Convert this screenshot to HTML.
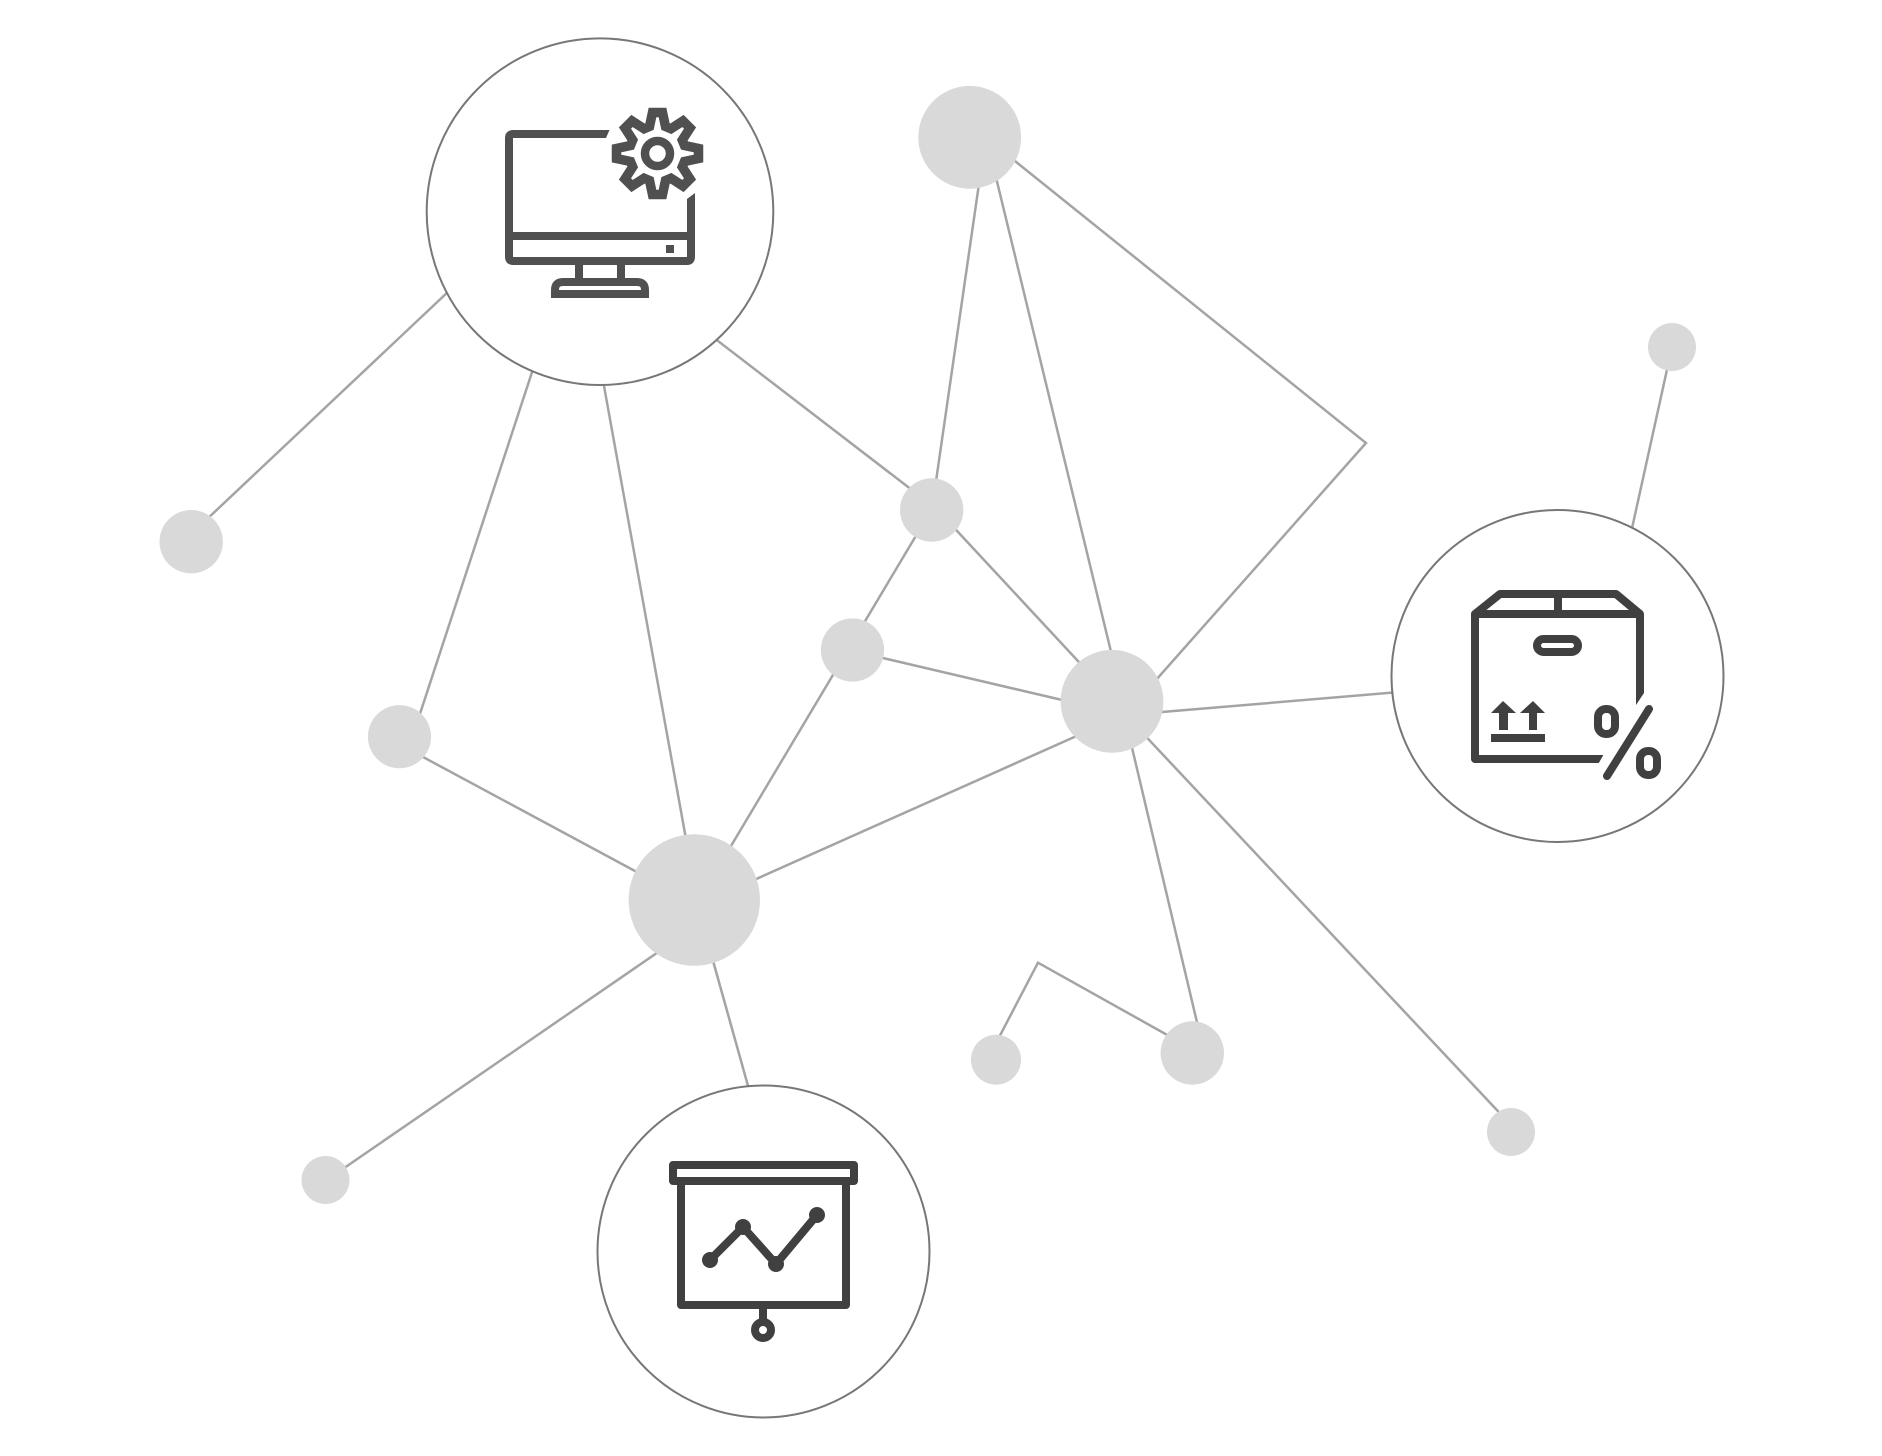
<!DOCTYPE html>
<html>
<head>
<meta charset="utf-8">
<title>Network diagram</title>
<style>
html,body{margin:0;padding:0;background:#fff}
svg{display:block}
</style>
</head>
<body>
<svg xmlns="http://www.w3.org/2000/svg" width="1882" height="1456" viewBox="0 0 1882 1456">
<rect width="1882" height="1456" fill="#fff"/>
<g stroke="#a4a4a4" stroke-width="2.5" fill="none">
<line x1="205" y1="521" x2="450" y2="290"/>
<line x1="415" y1="729" x2="536" y2="360"/>
<line x1="602" y1="375" x2="688" y2="850"/>
<line x1="705" y1="331" x2="925" y2="500"/>
<line x1="981" y1="170" x2="934" y2="495"/>
<line x1="993" y1="165" x2="1113" y2="660"/>
<polyline points="1005,153 1366,443 1148,689"/>
<line x1="920" y1="529" x2="725" y2="856"/>
<line x1="945" y1="518" x2="1090" y2="674"/>
<line x1="870" y1="655" x2="1075" y2="703"/>
<line x1="1150" y1="713" x2="1400" y2="692"/>
<line x1="1090" y1="730" x2="745" y2="884"/>
<line x1="1129" y1="735" x2="1200" y2="1035"/>
<line x1="1136" y1="726" x2="1510" y2="1124"/>
<polyline points="994,1047 1038,962.7 1178,1041"/>
<line x1="410" y1="750" x2="648" y2="878"/>
<line x1="667" y1="946" x2="334" y2="1175"/>
<line x1="710" y1="950" x2="750" y2="1093"/>
<line x1="1625" y1="560" x2="1672" y2="347"/>
</g>
<g fill="#d9d9d9">
<circle cx="969.7" cy="137.3" r="51.4"/>
<circle cx="1672" cy="347" r="24"/>
<circle cx="191.2" cy="541.7" r="31.7"/>
<circle cx="931.7" cy="510" r="31.7"/>
<circle cx="852.5" cy="650" r="31.6"/>
<circle cx="1112" cy="701.3" r="51.4"/>
<circle cx="399.5" cy="736.7" r="31.6"/>
<circle cx="694.3" cy="900" r="65.7"/>
<circle cx="996" cy="1059.7" r="25"/>
<circle cx="1192.3" cy="1053" r="31.7"/>
<circle cx="1511" cy="1132" r="24"/>
<circle cx="325.5" cy="1180" r="24"/>
</g>
<g fill="#fff" stroke="#777" stroke-width="2">
<circle cx="600" cy="211.7" r="173.3"/>
<circle cx="1557.5" cy="676" r="166"/>
<circle cx="763.5" cy="1251.5" r="166"/>
</g>

<!-- monitor with gear -->
<g fill="none" stroke="#505050" stroke-width="8">
<path d="M604 134 H513 Q509 134 509 138 V257 Q509 261 513 261 H687 Q691 261 691 257 V205"/>
<line x1="509" y1="236" x2="691" y2="236"/>
<line x1="579" y1="265" x2="579" y2="278"/>
<line x1="621" y1="265" x2="621" y2="278"/>
<path d="M555 294 V290 Q555 282 563 282 H637 Q645 282 645 290 V294 Z"/>
<g transform="translate(657.5,153.5)" stroke-linejoin="miter">
<circle r="12.5" stroke-width="8.5"/>
<path stroke-width="9.5" d="M-8 -27 L-5 -41 L5 -41 L8 -27 L13.44 -24.75 L25.46 -32.53 L32.53 -25.46 L24.75 -13.44 L27 -8 L41 -5 L41 5 L27 8 L24.75 13.44 L32.53 25.46 L25.46 32.53 L13.44 24.75 L8 27 L5 41 L-5 41 L-8 27 L-13.44 24.75 L-25.46 32.53 L-32.53 25.46 L-24.75 13.44 L-27 8 L-41 5 L-41 -5 L-27 -8 L-24.75 -13.44 L-32.53 -25.46 L-25.46 -32.53 L-13.44 -24.75 Z"/>
</g>
</g>
<rect x="666" y="245" width="8" height="8" fill="#505050"/>
<polygon points="600,130 609.5,130 606,138 600,138" fill="#505050"/>
<polygon points="687,199 695,193 695,206 687,206" fill="#505050"/>

<!-- box with percent -->
<g fill="none" stroke="#404040" stroke-width="8" stroke-linejoin="round">
<path d="M1603 759 H1475 V614 L1500 594 H1616 L1640 614 V693"/>
<line x1="1475" y1="614" x2="1640" y2="614"/>
<line x1="1558" y1="594" x2="1558" y2="614"/>
<rect x="1537" y="639" width="41" height="13" rx="6.5"/>
<line x1="1649" y1="709" x2="1607" y2="776" stroke-linecap="round"/>
<rect x="1598" y="709" width="17" height="25" rx="8"/>
<rect x="1640" y="751" width="17" height="24" rx="8"/>
</g>
<g fill="#404040">
<polygon points="1636,693 1644,693 1636,705"/>
<polygon points="1503,701 1516,713 1508,713 1508,730 1499,730 1499,713 1491,713"/>
<polygon points="1533,701 1545,713 1537,713 1537,730 1529,730 1529,713 1520,713"/>
<rect x="1491" y="734" width="54" height="8"/>
</g>
<polygon points="1604,754 1611,754 1604,766 1597,766" fill="#fff"/>

<!-- presentation board -->
<g fill="none" stroke="#404040" stroke-width="8" stroke-linejoin="round">
<rect x="673" y="1165" width="181" height="16"/>
<rect x="681" y="1181" width="165" height="124"/>
<line x1="763" y1="1305" x2="763" y2="1320"/>
<circle cx="763" cy="1330" r="8"/>
<polyline points="710,1260 743,1227 776,1264 817,1215"/>
</g>
<g fill="#404040">
<circle cx="710" cy="1260" r="8"/>
<circle cx="743" cy="1227" r="8"/>
<circle cx="776" cy="1264" r="8"/>
<circle cx="817" cy="1215" r="8"/>
</g>
</svg>
</body>
</html>
